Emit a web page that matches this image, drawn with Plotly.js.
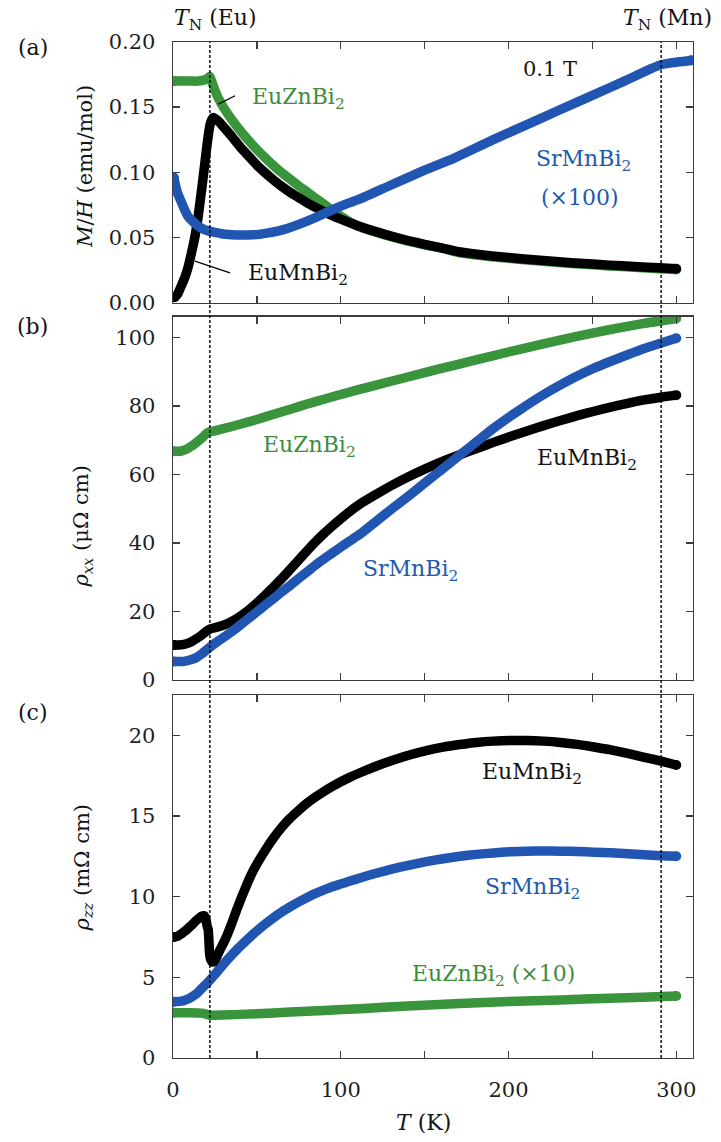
<!DOCTYPE html>
<html>
<head>
<meta charset="utf-8">
<script src="https://cdn.plot.ly/plotly-3.0.1.min.js"></script>
<style>
  html, body { margin: 0; padding: 0; background: #fff; }
  #chart { width: 721px; height: 1142px; }
</style>
</head>
<body>
<div id="chart"></div>
<script>
// ---------- (a) magnetization M/H at 0.1 T ----------
const tMagEuZn = [1, 5, 10, 15, 19, 21, 22, 23, 25, 27, 30, 35, 40, 45, 50, 55, 60, 65, 70, 75, 80, 85, 90, 95, 100, 110, 120, 130, 140, 150, 160, 170, 180, 190, 200, 215, 230, 245, 260, 275, 290, 300];
const magEuZn  = [0.170, 0.170, 0.170, 0.170, 0.171, 0.1725, 0.1735, 0.170, 0.163, 0.157, 0.150, 0.1405, 0.132, 0.1245, 0.1175, 0.111, 0.105, 0.0995, 0.0945, 0.0895, 0.0848, 0.0800, 0.0755, 0.0708, 0.0663, 0.0588, 0.0543, 0.0505, 0.0472, 0.0443, 0.0417, 0.0384, 0.0366, 0.0351, 0.0339, 0.0322, 0.0307, 0.0293, 0.0281, 0.0270, 0.0260, 0.0253];

const tMagEuMn = [1, 3, 5, 7, 9, 11, 13, 15, 17, 19, 20, 21, 22, 23, 24, 26, 28, 30, 35, 40, 45, 50, 55, 60, 65, 70, 75, 80, 85, 90, 95, 100, 110, 120, 130, 140, 150, 160, 170, 180, 190, 200, 215, 230, 245, 260, 275, 290, 300];
const magEuMn  = [0.004, 0.007, 0.013, 0.019, 0.027, 0.038, 0.050, 0.066, 0.086, 0.107, 0.118, 0.128, 0.136, 0.140, 0.142, 0.1405, 0.138, 0.135, 0.1275, 0.1195, 0.1125, 0.1055, 0.0995, 0.0940, 0.0890, 0.0845, 0.0805, 0.0765, 0.0730, 0.0697, 0.0667, 0.0640, 0.0590, 0.0548, 0.0510, 0.0476, 0.0446, 0.0420, 0.0390, 0.0372, 0.0357, 0.0345, 0.0328, 0.0313, 0.0299, 0.0287, 0.0276, 0.0266, 0.0259];

// SrMnBi2 susceptibility, multiplied by 100
const tMagSrMn = [0.5, 1.5, 3, 5, 7, 9, 12, 15, 18, 21, 25, 29, 35, 40, 45, 51, 57, 63, 69, 75, 81, 87, 93, 99, 105, 111.5, 130, 150, 167, 190, 210, 230, 250, 270, 285, 291, 296, 300, 305, 309];
const magSrMn  = [0.096, 0.090, 0.083, 0.077, 0.071, 0.066, 0.062, 0.0587, 0.0565, 0.055, 0.0538, 0.0528, 0.0521, 0.0518, 0.0519, 0.0523, 0.0535, 0.055, 0.0572, 0.060, 0.063, 0.0664, 0.070, 0.0735, 0.0765, 0.0795, 0.0902, 0.1016, 0.1105, 0.1245, 0.136, 0.1476, 0.159, 0.1705, 0.1795, 0.1825, 0.1838, 0.1845, 0.1852, 0.186];

// ---------- (b) in-plane resistivity rho_xx (μΩ cm) ----------
const tRxxEuZn = [0.5, 5, 8, 11, 14, 17, 20, 22, 25, 30, 40, 50, 60, 70, 80, 90, 100, 120, 140, 160, 180, 200, 220, 240, 260, 280, 300];
const rxxEuZn  = [66.8, 66.9, 67.4, 68.3, 69.4, 70.6, 72.0, 72.5, 72.8, 73.4, 74.7, 76.1, 77.6, 79.1, 80.6, 82.0, 83.4, 86.0, 88.5, 91.0, 93.4, 95.8, 98.1, 100.3, 102.3, 104.1, 105.6];

const tRxxEuMn = [0.5, 5, 8, 11, 14, 17, 20, 22, 25, 30, 35, 40, 45, 50, 55, 60, 65, 70, 75, 80, 85, 90, 95, 100, 105, 111.5, 121, 131, 141, 151, 161, 171, 181, 191, 201, 211, 221, 231, 241, 251, 261, 271, 281, 291, 300];
const rxxEuMn  = [10.2, 10.3, 10.6, 11.2, 12.1, 13.1, 14.3, 14.9, 15.3, 16.0, 17.1, 18.6, 20.4, 22.5, 24.8, 27.2, 29.7, 32.4, 35.1, 37.8, 40.4, 42.8, 45.0, 47.1, 49.1, 51.4, 54.2, 57.0, 59.5, 61.8, 63.9, 65.8, 67.6, 69.4, 71.1, 72.7, 74.3, 75.8, 77.2, 78.5, 79.7, 80.8, 81.8, 82.6, 83.2];

const tRxxSrMn = [0.5, 5, 8, 11, 14, 17, 20, 22, 25, 30, 35, 40, 45, 50, 55, 60, 65, 70, 75, 80, 85, 90, 95, 100, 105, 111.5, 121, 131, 141, 151, 161, 171, 181, 191, 201, 211, 221, 231, 241, 251, 261, 271, 281, 291, 300];
const rxxSrMn  = [5.4, 5.4, 5.6, 6.0, 6.6, 7.6, 8.8, 9.6, 10.7, 12.4, 14.1, 16.0, 18.0, 19.9, 21.9, 23.8, 25.8, 27.7, 29.7, 31.6, 33.6, 35.4, 37.1, 38.8, 40.5, 42.6, 46.3, 50.2, 54.0, 57.9, 61.8, 65.7, 69.6, 73.5, 77.0, 80.3, 83.4, 86.2, 88.8, 91.1, 93.1, 95.0, 96.8, 98.4, 99.8];

// ---------- (c) out-of-plane resistivity rho_zz (mΩ cm) ----------
const tRzzEuMn = [0.5, 3, 5, 7, 9, 11, 13, 15, 17, 18.5, 19.5, 20.3, 21, 21.4, 21.8, 22.5, 23.5, 24.5, 26, 28, 31, 35, 38, 41, 44, 47, 51, 55, 60, 65, 70, 75, 80, 85, 90, 95, 100, 105, 111.5, 121, 131, 141, 151, 161, 171, 181, 191, 201, 211, 221, 231, 241, 251, 261, 271, 281, 291, 300];
const rzzEuMn  = [7.5, 7.55, 7.7, 7.85, 8.03, 8.22, 8.44, 8.62, 8.78, 8.82, 8.65, 8.2, 7.95, 7.3, 6.5, 6.1, 5.95, 5.98, 6.25, 6.7, 7.31, 8.34, 9.2, 9.99, 10.75, 11.44, 12.2, 12.88, 13.65, 14.32, 14.88, 15.36, 15.8, 16.18, 16.52, 16.83, 17.12, 17.38, 17.68, 18.08, 18.45, 18.78, 19.05, 19.27, 19.43, 19.56, 19.64, 19.68, 19.68, 19.64, 19.56, 19.44, 19.28, 19.1, 18.88, 18.64, 18.4, 18.16];

const tRzzSrMn = [0.5, 5, 8, 11, 14, 17, 20, 22, 25, 30, 35, 40, 45, 50, 55, 60, 65, 70, 75, 80, 85, 90, 95, 100, 105, 111.5, 121, 131, 141, 151, 161, 171, 181, 191, 201, 211, 221, 231, 241, 251, 261, 271, 281, 291, 300];
const rzzSrMn  = [3.49, 3.52, 3.62, 3.78, 3.98, 4.3, 4.6, 4.83, 5.18, 5.8, 6.38, 6.92, 7.41, 7.88, 8.3, 8.7, 9.06, 9.38, 9.68, 9.95, 10.2, 10.42, 10.62, 10.78, 10.95, 11.16, 11.45, 11.72, 11.96, 12.17, 12.35, 12.5, 12.62, 12.71, 12.78, 12.82, 12.83, 12.82, 12.8, 12.76, 12.72, 12.66, 12.6, 12.54, 12.5];

// EuZnBi2 rho_zz, multiplied by 10
const tRzzEuZn = [0.5, 10, 17, 21, 23, 30, 50, 70, 90, 111.5, 140, 171, 200, 231, 260, 280, 300];
const rzzEuZn  = [2.81, 2.81, 2.78, 2.68, 2.65, 2.67, 2.74, 2.85, 2.95, 3.06, 3.22, 3.38, 3.5, 3.6, 3.7, 3.77, 3.84];

// Néel temperatures (K): Eu sublattice and Mn sublattice
const neelTemps = [22, 291];

// Axis ticks
const tTickVals = [0, 100, 200, 300];
const tTickText = ['0', '100', '200', '300'];
const magTickVals = [0, 0.05, 0.10, 0.15, 0.20];
const magTickText = ['0.00', '0.05', '0.10', '0.15', '0.20'];
const rxxTickVals = [0, 20, 40, 60, 80, 100];
const rzzTickVals = [0, 5, 10, 15, 20];

// ---------- styling ----------
const GREEN = 'rgb(58,148,60)';
const BLUE = 'rgb(32,86,178)';
const BLACK = 'rgb(0,0,0)';
const GREEN_TXT = 'rgb(62,140,62)';
const BLUE_TXT = 'rgb(30,90,172)';
const INK = 'rgb(20,20,20)';
const SERIF = 'DejaVu Serif, Liberation Serif, serif';
const FRAME = 'rgb(60,60,60)';
const LINE_W = 9.5;

// Thick measured curve; a solid dot at each end gives the rounded caps of dense data markers
function curve(x, y, color, xa, ya, name) {
  const last = x.length - 1;
  return {
    x: x, y: y, xaxis: xa, yaxis: ya, name: name,
    type: 'scatter', mode: 'lines+markers',
    line: { color: color, width: LINE_W, shape: 'spline', smoothing: 0.5 },
    marker: {
      color: color, opacity: 1, symbol: 'circle',
      size: x.map((_, i) => (i === 0 || i === last) ? LINE_W + 0.5 : 0),
      line: { width: 0, color: color }
    },
    hoverinfo: 'skip', showlegend: false
  };
}

const traces = [
  curve(tMagEuZn, magEuZn, GREEN, 'x', 'y', 'EuZnBi2'),
  curve(tMagEuMn, magEuMn, BLACK, 'x', 'y', 'EuMnBi2'),
  curve(tMagSrMn, magSrMn, BLUE, 'x', 'y', 'SrMnBi2 (x100)'),
  curve(tRxxEuZn, rxxEuZn, GREEN, 'x2', 'y2', 'EuZnBi2'),
  curve(tRxxEuMn, rxxEuMn, BLACK, 'x2', 'y2', 'EuMnBi2'),
  curve(tRxxSrMn, rxxSrMn, BLUE, 'x2', 'y2', 'SrMnBi2'),
  curve(tRzzEuZn, rzzEuZn, GREEN, 'x3', 'y3', 'EuZnBi2 (x10)'),
  curve(tRzzSrMn, rzzSrMn, BLUE, 'x3', 'y3', 'SrMnBi2'),
  curve(tRzzEuMn, rzzEuMn, BLACK, 'x3', 'y3', 'EuMnBi2')
];

const tickFont = { family: SERIF, size: 21, color: 'rgb(30,30,30)' };
const tickStyle = { ticks: 'inside', ticklen: 7, tickwidth: 1.3, tickcolor: FRAME };

function xAxis(anchor, showLabels) {
  return Object.assign({
    anchor: anchor, domain: [0, 1], range: [0, 310],
    tickmode: 'array', tickvals: tTickVals, ticktext: tTickText,
    minor: Object.assign({ tick0: 0, dtick: 50, showgrid: false }, tickStyle),
    showline: true, linecolor: FRAME, linewidth: 1.4, mirror: 'ticks',
    showgrid: false, zeroline: false,
    showticklabels: showLabels, tickfont: tickFont, ticklabelstandoff: 12
  }, tickStyle);
}
function yAxis(anchor, domain, range, vals, text) {
  return Object.assign({
    anchor: anchor, domain: domain, range: range,
    tickmode: 'array', tickvals: vals, ticktext: text,
    showline: true, linecolor: FRAME, linewidth: 1.4, mirror: 'ticks',
    showgrid: false, zeroline: false,
    tickfont: tickFont, ticklabelstandoff: 12
  }, tickStyle);
}

function label(text, x, y, xref, yref, color, size, extra) {
  return Object.assign({
    text: text, x: x, y: y, xref: xref, yref: yref,
    xanchor: 'center', yanchor: 'middle', showarrow: false,
    font: { family: SERIF, size: size, color: color }
  }, extra || {});
}

const annotations = [
  // panel tags
  label('(a)', -0.27, 0.995, 'paper', 'paper', INK, 22),
  label('(b)', -0.27, 0.7195, 'paper', 'paper', INK, 22),
  label('(c)', -0.27, 0.3396, 'paper', 'paper', INK, 22),
  // axis titles
  label('<i>M</i>/<i>H</i> (emu/mol)', -0.169, 0.877, 'paper', 'paper', INK, 21, { textangle: -90 }),
  label('<i>ρ</i><sub><i>xx</i></sub> (μΩ cm)', -0.174, 0.5226, 'paper', 'paper', INK, 21, { textangle: -90 }),
  label('<i>ρ</i><sub><i>zz</i></sub> (mΩ cm)', -0.174, 0.187, 'paper', 'paper', INK, 21, { textangle: -90 }),
  label('<i>T</i> (K)', 0.4808, -0.063, 'paper', 'paper', INK, 22),
  // transition markers
  label('<i>T</i><sub>N</sub> (Eu)', 0.0808, 1.0217, 'paper', 'paper', INK, 22),
  label('<i>T</i><sub>N</sub> (Mn)', 0.9500, 1.0217, 'paper', 'paper', INK, 22),
  // panel (a)
  label('0.1 T', 224.8, 0.179, 'x', 'y', INK, 21),
  label('EuZnBi<sub>2</sub>', 75, 0.157, 'x', 'y', GREEN_TXT, 22),
  label('EuMnBi<sub>2</sub>', 74.5, 0.0215, 'x', 'y', INK, 22),
  label('SrMnBi<sub>2</sub>', 244.5, 0.109, 'x', 'y', BLUE_TXT, 22),
  label('(×100)', 242.7, 0.0808, 'x', 'y', BLUE_TXT, 22),
  // panel (b)
  label('EuZnBi<sub>2</sub>', 81.1, 68.1, 'x2', 'y2', GREEN_TXT, 22),
  label('EuMnBi<sub>2</sub>', 246.9, 64.3, 'x2', 'y2', INK, 22),
  label('SrMnBi<sub>2</sub>', 141.3, 32.1, 'x2', 'y2', BLUE_TXT, 22),
  // panel (c)
  label('EuMnBi<sub>2</sub>', 214.1, 17.65, 'x3', 'y3', INK, 22),
  label('SrMnBi<sub>2</sub>', 214.1, 10.53, 'x3', 'y3', BLUE_TXT, 22),
  label('EuZnBi<sub>2</sub> (×10)', 190.8, 5.14, 'x3', 'y3', GREEN_TXT, 22)
];

const shapes = neelTemps.map(t => ({
  type: 'line', xref: 'x3', yref: 'paper',
  x0: t, x1: t, y0: 0, y1: 1,
  line: { color: 'rgb(0,0,0)', width: 1.4, dash: '3px,2px' }
})).concat([
  // leader lines for panel (a) labels
  { type: 'line', xref: 'x', yref: 'y', x0: 37.0, y0: 0.1587, x1: 27.0, y1: 0.1523,
    line: { color: 'rgb(0,0,0)', width: 1.3 } },
  { type: 'line', xref: 'x', yref: 'y', x0: 34.0, y0: 0.0228, x1: 13.1, y1: 0.0318,
    line: { color: 'rgb(0,0,0)', width: 1.3 } }
]);

const layout = {
  width: 721, height: 1142,
  margin: { l: 173, r: 28, t: 42, b: 84 },
  paper_bgcolor: '#fff', plot_bgcolor: '#fff',
  showlegend: false,
  xaxis: xAxis('y', false),
  xaxis2: xAxis('y2', false),
  xaxis3: xAxis('y3', true),
  yaxis: yAxis('x', [0.7436, 1], [0, 0.20], magTickVals, magTickText),
  yaxis2: yAxis('x2', [0.3720, 0.7296], [0, 106.1], rxxTickVals, rxxTickVals.map(String)),
  yaxis3: yAxis('x3', [0, 0.3573], [0, 22.5], rzzTickVals, rzzTickVals.map(String)),
  annotations: annotations,
  shapes: shapes
};

Plotly.newPlot('chart', traces, layout, { staticPlot: true, displayModeBar: false });
</script>
</body>
</html>
